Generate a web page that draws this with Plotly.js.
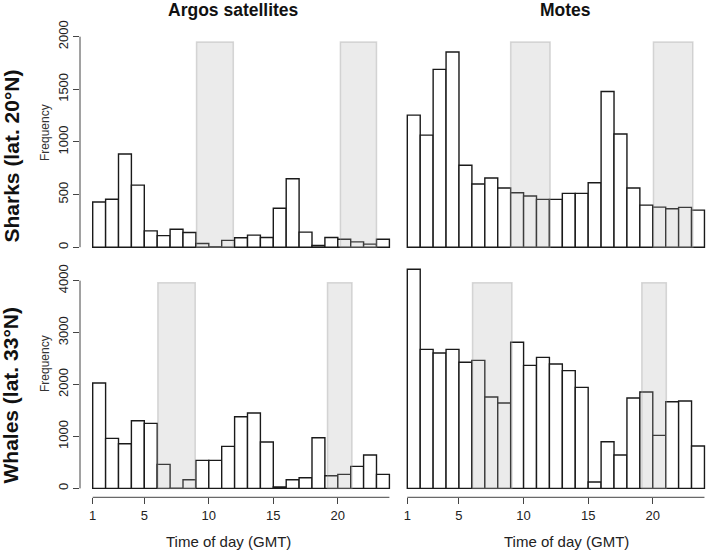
<!DOCTYPE html>
<html>
<head>
<meta charset="utf-8">
<script src="https://cdn.plot.ly/plotly-3.0.1.min.js"></script>
<style>
  html, body { margin:0; padding:0; background:#fff; }
  #chart { width:709px; height:553px; }
</style>
</head>
<body>
<div id="chart"></div>
<script>
// hourly detection counts (GMT hour bins)
const hours = [1,2,3,4,5,6,7,8,9,10,11,12,13,14,15,16,17,18,19,20,21,22,23];
const sharksArgos = [430,455,885,590,155,110,170,140,35,4,65,90,115,92,370,650,143,16,92,76,51,29,76];
const sharksMotes = [1255,1065,1690,1855,778,600,657,562,517,486,454,454,511,511,613,1480,1075,562,400,381,365,378,352];
const whalesArgos = [2030,963,861,1304,1252,462,4,167,540,540,809,1381,1452,893,26,167,206,976,244,270,424,642,270];
const whalesMotes = [4220,2678,2608,2678,2428,2466,1760,1644,2813,2370,2524,2396,2267,1946,122,899,642,1741,1856,1021,1670,1683,816];

// night-time windows (hours) shown as grey bands
const sharksArgosNight = [[9.05,11.9],[20.2,23.0]];
const sharksMotesNight = [[9.0,12.05],[20.05,23.1]];
const whalesArgosNight = [[6.05,8.95],[19.2,21.1]];
const whalesMotesNight = [[6.05,9.1],[19.15,21.05]];

const yTicksTop = [0,500,1000,1500,2000];
const yTicksBottom = [0,1000,2000,3000,4000];
const xTicks = [1,5,10,15,20];

const W = 709, H = 553;
const FONT = 'Liberation Sans, Arial, sans-serif';
const px = v => v / W;
const py = v => 1 - v / H;

// pixel -> data helpers for each column / row
const xl = p => 1 + (p - 92.7) / 12.9;
const xr = p => 1 + (p - 407.3) / 12.92;
const yt = p => (247.2 - p) / 0.10525;
const yb = p => (488.4 - p) / 0.05193;

function barTrace(y, xa, ya){
  return { type:'bar', x: hours, y: y, offset:0, width:1, xaxis:xa, yaxis:ya,
    marker:{ color:'#ffffff', line:{ color:'#1a1a1a', width:1.4 } }, hoverinfo:'x+y' };
}

const data = [
  barTrace(sharksArgos, 'x', 'y'),
  barTrace(sharksMotes, 'x2', 'y2'),
  barTrace(whalesArgos, 'x3', 'y3'),
  barTrace(whalesMotes, 'x4', 'y4')
];

function bands(list, xref, yref, top){
  return list.map(b => ({ type:'rect', xref:xref, yref:yref, x0:b[0], x1:b[1], y0:0, y1:top,
    fillcolor:'rgba(170,170,170,0.24)', line:{ color:'rgba(150,150,150,0.35)', width:1.5 }, layer:'above' }));
}

const hidden = { showgrid:false, zeroline:false, showline:false, ticks:'', showticklabels:false };
const xBottom = { showgrid:false, zeroline:false, showline:false, ticks:'outside', ticklen:6, tickwidth:1,
  tickcolor:'#444', tickvals:xTicks, tickfont:{ family:FONT, size:13, color:'#222' } };
const yLeft = { showgrid:false, zeroline:false, showline:false, ticks:'outside', ticklen:6, tickwidth:1,
  tickcolor:'#444', tickangle:-90, tickfont:{ family:FONT, size:13, color:'#222' } };

const layout = {
  width:W, height:H, margin:{ l:0, r:0, t:0, b:0 },
  paper_bgcolor:'#fff', plot_bgcolor:'rgba(0,0,0,0)', showlegend:false,
  font:{ family:FONT, color:'#222' },
  xaxis:  Object.assign({}, hidden, { domain:[px(80), px(396)], range:[xl(80), xl(396)], anchor:'y' }),
  xaxis2: Object.assign({}, hidden, { domain:[px(396), 1], range:[xr(396), xr(709)], anchor:'y2' }),
  xaxis3: Object.assign({}, xBottom, { domain:[px(80), px(396)], range:[xl(80), xl(396)], anchor:'y3' }),
  xaxis4: Object.assign({}, xBottom, { domain:[px(396), 1], range:[xr(396), xr(709)], anchor:'y4' }),
  yaxis:  Object.assign({}, yLeft, { domain:[py(250), py(28)], range:[yt(250), yt(28)], tickvals:yTicksTop, anchor:'x' }),
  yaxis2: Object.assign({}, hidden, { domain:[py(250), py(28)], range:[yt(250), yt(28)], anchor:'x2' }),
  yaxis3: Object.assign({}, yLeft, { domain:[py(497.3), py(268)], range:[yb(497.3), yb(268)], tickvals:yTicksBottom, anchor:'x3' }),
  yaxis4: Object.assign({}, hidden, { domain:[py(497.3), py(268)], range:[yb(497.3), yb(268)], anchor:'x4' }),
  shapes: [].concat(
    bands(sharksArgosNight, 'x', 'y', 1950),
    bands(sharksMotesNight, 'x2', 'y2', 1950),
    bands(whalesArgosNight, 'x3', 'y3', 3960),
    bands(whalesMotesNight, 'x4', 'y4', 3960),
    [
      { type:'line', xref:'paper', yref:'y', x0:px(80), x1:px(80), y0:0, y1:2000, line:{ color:'#444', width:1 } },
      { type:'line', xref:'paper', yref:'y3', x0:px(80), x1:px(80), y0:0, y1:4000, line:{ color:'#444', width:1 } },
      { type:'line', xref:'x3', yref:'paper', x0:1, x1:24, y0:py(497.3), y1:py(497.3), line:{ color:'#444', width:1 } },
      { type:'line', xref:'x4', yref:'paper', x0:1, x1:24, y0:py(497.3), y1:py(497.3), line:{ color:'#444', width:1 } }
    ]
  ),
  annotations: [
    { text:'<b>Argos satellites</b>', x:px(233.7), y:py(10), font:{ size:17.5, color:'#111' } },
    { text:'<b>Motes</b>', x:px(565.3), y:py(10), font:{ size:17.5, color:'#111' } },
    { text:'<b>Sharks (lat. 20°N)</b>', x:px(10.5), y:py(156), textangle:-90, font:{ size:21, color:'#111' } },
    { text:'<b>Whales (lat. 33°N)</b>', x:px(10.5), y:py(396), textangle:-90, font:{ size:21, color:'#111' } },
    { text:'Frequency', x:px(45), y:py(133), textangle:-90, font:{ size:12, color:'#333' } },
    { text:'Frequency', x:px(45), y:py(364), textangle:-90, font:{ size:12, color:'#333' } },
    { text:'Time of day (GMT)', x:px(228.8), y:py(541.7), font:{ size:15, color:'#222' } },
    { text:'Time of day (GMT)', x:px(566.3), y:py(541.7), font:{ size:15, color:'#222' } }
  ].map(a => Object.assign({ xref:'paper', yref:'paper', showarrow:false, xanchor:'center', yanchor:'middle' }, a))
};

Plotly.newPlot('chart', data, layout, { displayModeBar:false, staticPlot:true });
</script>
</body>
</html>
